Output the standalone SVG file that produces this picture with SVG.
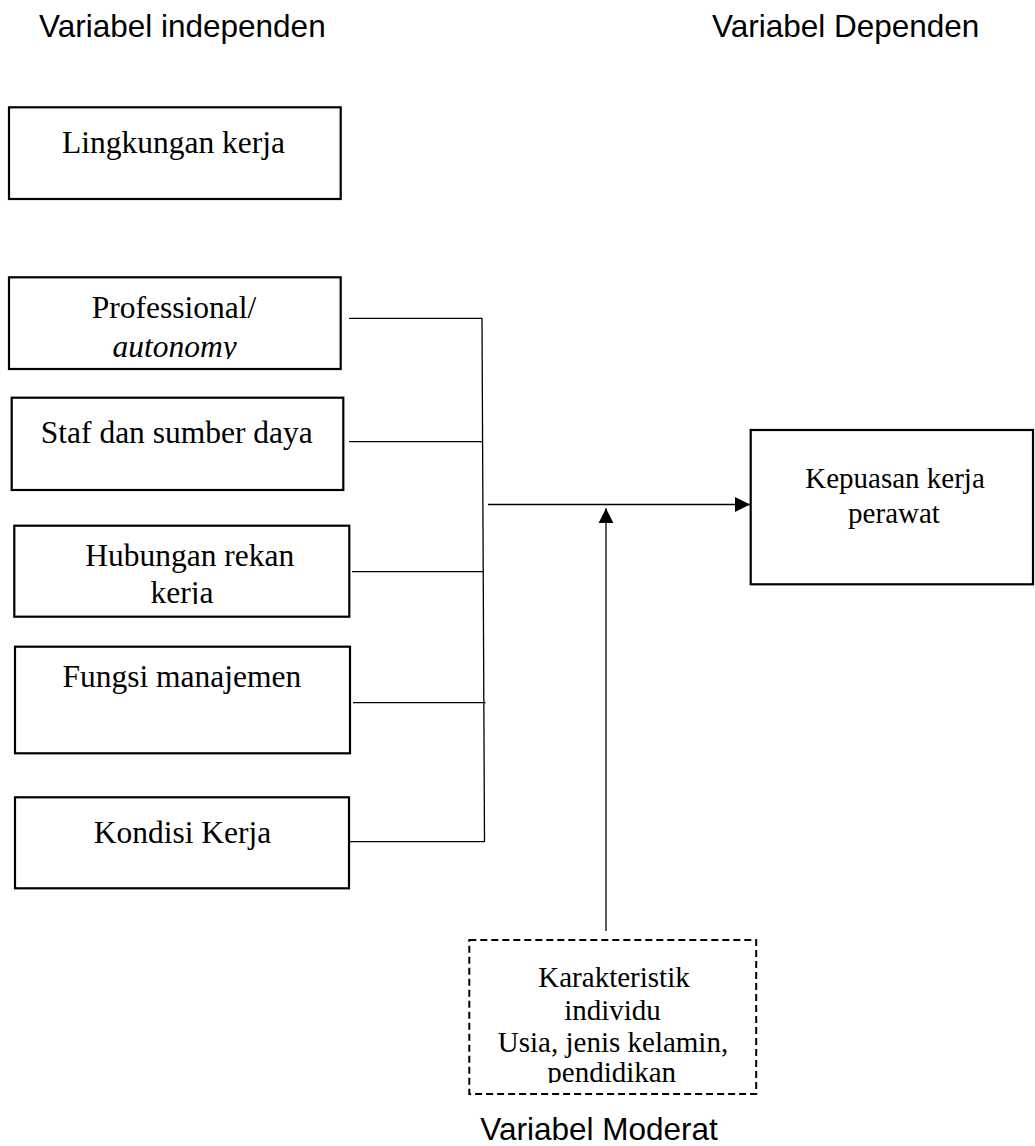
<svg xmlns="http://www.w3.org/2000/svg" width="1035" height="1146" viewBox="0 0 1035 1146">
<style>
.box{fill:#fff;stroke:#000;stroke-width:2.2}
.dbox{fill:#fff;stroke:#000;stroke-width:2;stroke-dasharray:7,4}
.t{font-family:"Liberation Serif","Times New Roman",serif;font-size:31.5px;fill:#000;text-anchor:middle}
.ts{font-family:"Liberation Serif","Times New Roman",serif;font-size:29px;fill:#000;text-anchor:middle}
.h{font-family:"Liberation Sans",Arial,sans-serif;font-size:31.5px;fill:#000}
.c{stroke:#000;stroke-width:1.3;fill:none}
</style>
<defs>
<marker id="arr" viewBox="0 0 10 10" refX="10" refY="5" markerUnits="userSpaceOnUse" markerWidth="15" markerHeight="16" orient="auto">
<path d="M0,0 L10,5 L0,10 Z" fill="#000"/>
</marker>
<clipPath id="clipProf"><rect x="9" y="277" width="332" height="82"/></clipPath>
<clipPath id="clipHub"><rect x="14" y="526" width="336" height="78"/></clipPath>
<clipPath id="clipKar"><rect x="469" y="940" width="288" height="143"/></clipPath>
</defs>
<rect width="1035" height="1146" fill="#fff"/>

<text class="h" x="39" y="37">Variabel independen</text>
<text class="h" x="712" y="37">Variabel Dependen</text>
<text class="h" x="599" y="1140" text-anchor="middle">Variabel Moderat</text>

<g id="connectors">
<line class="c" x1="349" y1="318.3" x2="482" y2="318.3"/>
<line class="c" x1="349" y1="441.7" x2="482.5" y2="441.7"/>
<line class="c" x1="352" y1="571.7" x2="484" y2="571.7"/>
<line class="c" x1="353" y1="702.7" x2="485.5" y2="702.7"/>
<line class="c" x1="349" y1="841.7" x2="484" y2="841.7"/>
<line class="c" x1="482" y1="318" x2="484.5" y2="842"/>
<line class="c" x1="488" y1="504.5" x2="750" y2="504.5" marker-end="url(#arr)"/>
<line class="c" x1="606" y1="931" x2="606" y2="508.3" marker-end="url(#arr)"/>
</g>

<g id="lingkungan">
<rect class="box" x="9" y="107.3" width="331.7" height="91.7"/>
<text class="t" x="173.5" y="153.3">Lingkungan kerja</text>
</g>

<g id="professional">
<rect class="box" x="9" y="277.3" width="331.7" height="91.7"/>
<g clip-path="url(#clipProf)">
<text class="t" x="174" y="318.3">Professional/</text>
<text class="t" x="174.5" y="357.3" font-style="italic">autonomy</text>
</g>
</g>

<g id="staf">
<rect class="box" x="11.7" y="397.7" width="331.6" height="92.3"/>
<text class="t" x="176.8" y="443.3">Staf dan sumber daya</text>
</g>

<g id="hubungan">
<rect class="box" x="14.3" y="525.7" width="335" height="91"/>
<g clip-path="url(#clipHub)">
<text class="t" x="189.7" y="565.7">Hubungan rekan</text>
<text class="t" x="182" y="603">kerja</text>
</g>
</g>

<g id="fungsi">
<rect class="box" x="15" y="646.7" width="335" height="106.6"/>
<text class="t" x="181.8" y="687.3">Fungsi manajemen</text>
</g>

<g id="kondisi">
<rect class="box" x="15" y="797.3" width="334" height="91"/>
<text class="t" x="182.5" y="843.3">Kondisi Kerja</text>
</g>

<g id="kepuasan">
<rect class="box" x="750.7" y="430" width="282.3" height="154.3"/>
<text class="ts" x="895" y="487.7">Kepuasan kerja</text>
<text class="ts" x="894" y="523.3">perawat</text>
</g>

<g id="karakteristik">
<rect class="dbox" x="469.3" y="940" width="286.9" height="154"/>
<g clip-path="url(#clipKar)">
<text class="ts" x="614" y="987.3">Karakteristik</text>
<text class="ts" x="612.5" y="1020">individu</text>
<text class="ts" x="613" y="1051.7">Usia, jenis kelamin,</text>
<text class="ts" x="611.7" y="1082.3">pendidikan</text>
</g>
</g>
</svg>
